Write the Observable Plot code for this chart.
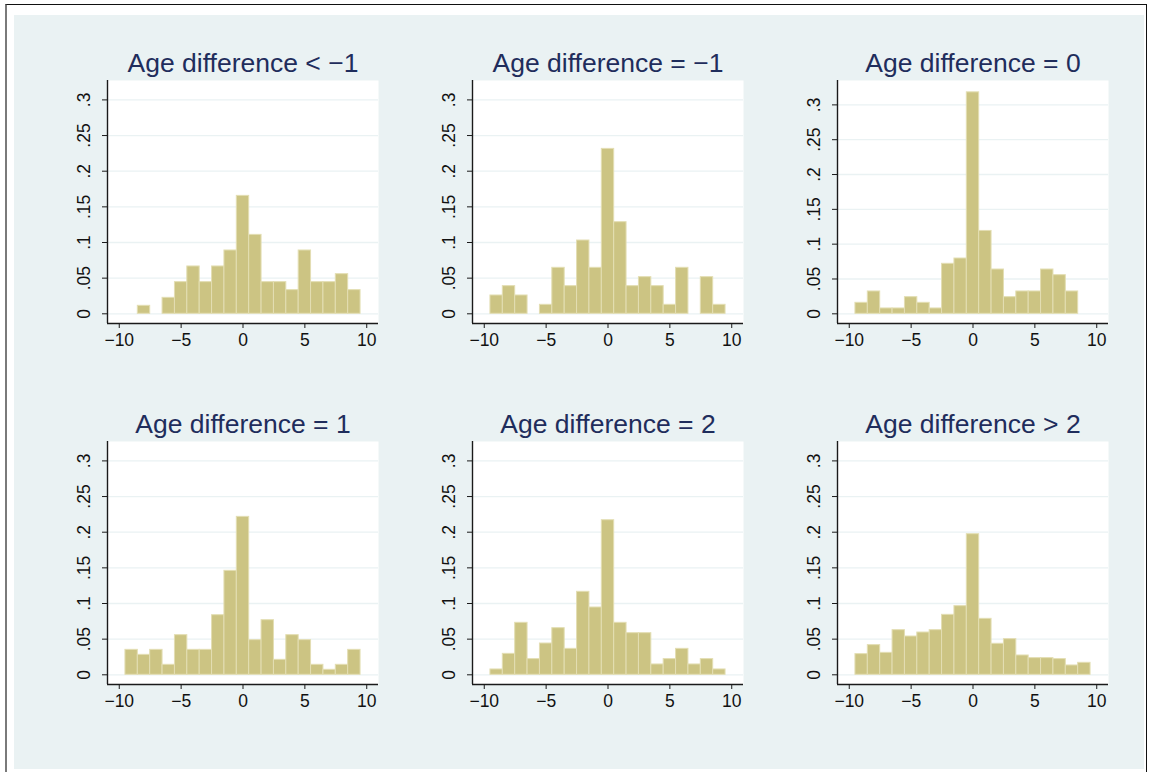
<!DOCTYPE html>
<html>
<head>
<meta charset="utf-8">
<script src="https://cdn.jsdelivr.net/npm/d3@7"></script>
<script src="https://cdn.jsdelivr.net/npm/@observablehq/plot@0.6"></script>
<style>
  body { margin: 0; background: #ffffff; }
  #page { position: relative; width: 1152px; height: 772px; overflow: hidden; background: #ffffff;
          font-family: "Liberation Sans", Arial, sans-serif; }
  #border { position: absolute; left: 5px; top: 4px; width: 1139px; height: 800px;
            border-top: 1.5px solid #111; border-right: 1.5px solid #111; border-left: 2px solid #7a7a7a; }
  #region { position: absolute; left: 14px; top: 15px; width: 1130px; height: 754px; background: #eaf2f3; }
  .panel { position: absolute; }
</style>
</head>
<body>
<div id="page"><div id="border"></div><div id="region"></div></div>
<script>
// Bin centres (width-1 bins, age difference in years)
const bins = [-9, -8, -7, -6, -5, -4, -3, -2, -1, 0, 1, 2, 3, 4, 5, 6, 7, 8, 9];

// Panel titles
const titles = [
  "Age difference < \u22121",
  "Age difference = \u22121",
  "Age difference = 0",
  "Age difference = 1",
  "Age difference = 2",
  "Age difference > 2"
];

// Density per bin, one array per panel
const densLtMinus1 = [0, 0.0112, 0, 0.0224, 0.0444, 0.0664, 0.0444, 0.0664, 0.0888, 0.1654, 0.1107, 0.0444, 0.0444, 0.0332, 0.0888, 0.0444, 0.0444, 0.0556, 0.0332];
const densMinus1   = [0.0257, 0.0388, 0.0257, 0, 0.0126, 0.0645, 0.0388, 0.1028, 0.0645, 0.2313, 0.1285, 0.0388, 0.0514, 0.0388, 0.0126, 0.0645, 0, 0.0514, 0.0126];
const densZero     = [0.0158, 0.0321, 0.0077, 0.0077, 0.0239, 0.0158, 0.0077, 0.0718, 0.0794, 0.318, 0.119, 0.0636, 0.0239, 0.0321, 0.0321, 0.0636, 0.0555, 0.0321, 0];
const densOne      = [0.035, 0.028, 0.035, 0.014, 0.0556, 0.035, 0.035, 0.0836, 0.1458, 0.2215, 0.0486, 0.0766, 0.021, 0.0556, 0.0486, 0.014, 0.007, 0.014, 0.035];
const densTwo      = [0.0075, 0.0294, 0.0729, 0.022, 0.0439, 0.0654, 0.0364, 0.1164, 0.0944, 0.2168, 0.0729, 0.0584, 0.0584, 0.0145, 0.022, 0.0364, 0.0145, 0.022, 0.0075];
const densGtTwo    = [0.029, 0.0416, 0.0308, 0.0626, 0.0537, 0.0593, 0.0626, 0.0841, 0.0963, 0.1972, 0.0785, 0.0435, 0.05, 0.0271, 0.0234, 0.0234, 0.022, 0.0131, 0.0168];

// Axis ticks and their labels
const xTicks = [-10, -5, 0, 5, 10];
const xTickLabels = ["\u221210", "\u22125", "0", "5", "10"];
const yTicks = [0, 0.05, 0.1, 0.15, 0.2, 0.25, 0.3];
const yTickLabels = ["0", ".05", ".1", ".15", ".2", ".25", ".3"];

const series = [densLtMinus1, densMinus1, densZero, densOne, densTwo, densGtTwo];

// Layout of the 2 x 3 grid (plot-area origin of each panel)
const colLeft = [107, 472, 837];
const rowTop = [80, 440.5];
const PW = 271, PH = 243;
const ML = 75, MR = 20, MT = 50, MB = 45;
const xDomain = [-10.95, 10.95];
const yDomains = [
  [-0.0136, 0.3272], [-0.0136, 0.3272], [-0.0139, 0.335],
  [-0.0136, 0.3272], [-0.0136, 0.3272], [-0.0136, 0.3272]
];

const page = document.getElementById("page");

series.forEach((dens, i) => {
  const rows = bins.map((b, j) => ({bin: b, density: dens[j]})).filter(d => d.density > 0);
  const yDomain = yDomains[i];
  const chart = Plot.plot({
    width: ML + PW + MR,
    height: MT + PH + MB,
    marginLeft: ML, marginRight: MR, marginTop: MT, marginBottom: MB,
    style: {background: "transparent", fontFamily: "'Liberation Sans', Arial, sans-serif", fontSize: "17.5px", color: "#111", overflow: "visible"},
    x: {domain: xDomain, label: null},
    y: {domain: yDomain, label: null},
    marks: [
      Plot.frame({fill: "white", stroke: "none"}),
      Plot.gridY(yTicks, {stroke: "#eaf2f3", strokeOpacity: 1, strokeWidth: 1.3}),
      Plot.rectY(rows, {
        x1: d => d.bin - 0.5,
        x2: d => d.bin + 0.5,
        y: "density",
        fill: "#ccc483",
        stroke: "#e3deb3",
        strokeWidth: 1
      }),
      Plot.ruleX([xDomain[0]], {stroke: "#1a1a1a", strokeWidth: 1.4}),
      Plot.ruleY([yDomain[0]], {stroke: "#1a1a1a", strokeWidth: 1.4}),
      Plot.axisX(xTicks, {
        tickSize: 5, tickPadding: 5,
        tickFormat: d => xTickLabels[xTicks.indexOf(d)],
        stroke: "#1a1a1a", fill: "#111"
      }),
      Plot.axisY(yTicks, {
        tickSize: 5, tickPadding: 13, tickRotate: -90,
        tickFormat: d => yTickLabels[yTicks.indexOf(d)],
        stroke: "#1a1a1a", fill: "#111"
      }),
      Plot.text([titles[i]], {
        frameAnchor: "top", lineAnchor: "bottom", dy: -9,
        fontSize: 26.5, fill: "#1f2d5c"
      })
    ]
  });
  chart.classList.add("panel");
  chart.style.left = (colLeft[i % 3] - ML) + "px";
  chart.style.top = (rowTop[Math.floor(i / 3)] - MT) + "px";
  page.appendChild(chart);
});
</script>
</body>
</html>
